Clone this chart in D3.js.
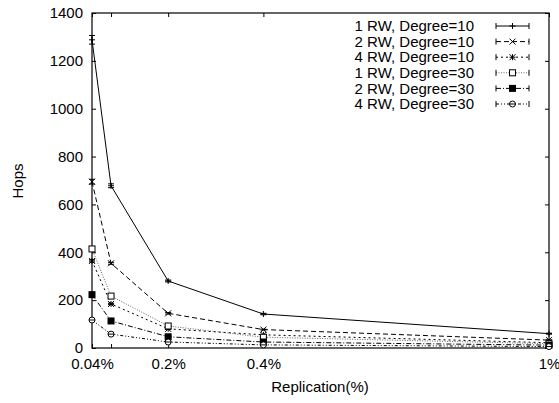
<!DOCTYPE html>
<html><head><meta charset="utf-8">
<script src="https://cdn.jsdelivr.net/npm/d3@7"></script>
<style>body{margin:0;background:#fff}svg{display:block}text{font-family:"Liberation Sans",Arial,sans-serif}</style>
</head><body><svg id="c" width="559" height="403"></svg>
<script>
const xValues = [0.04, 0.08, 0.2, 0.4, 1];
const xTickValues = [0.04, 0.08, 0.2, 0.4, 1];
const xTickLabels = ["0.04%", "", "0.2%", "0.4%", "1%"];
const yTickValues = [0, 200, 400, 600, 800, 1000, 1200, 1400];
const seriesNames = ["1 RW, Degree=10","2 RW, Degree=10","4 RW, Degree=10","1 RW, Degree=30","2 RW, Degree=30","4 RW, Degree=30"];
const rw1d10 = [1288, 678, 280, 142, 60];
const rw2d10 = [695, 354, 145, 77, 33];
const rw4d10 = [364, 184, 80, 55, 22];
const rw1d30 = [414, 217, 92, 45, 18];
const rw2d30 = [223, 113, 47, 25, 12];
const rw4d30 = [117, 58, 25, 13, 6];
const err1d10 = [18, 8, 4, 3, 2];
const err2d10 = [10, 4, 3, 2, 1];
const err4d10 = [5, 3, 2, 1, 1];
const err1d30 = [6, 4, 3, 2, 1];
const err2d30 = [4, 3, 2, 1, 1];
const err4d30 = [3, 2, 2, 1, 1];

const series = [
  {name: seriesNames[0], v: rw1d10, e: err1d10, dash: null, color: "#000", mk: "plus"},
  {name: seriesNames[1], v: rw2d10, e: err2d10, dash: "5,3", color: "#000", mk: "cross"},
  {name: seriesNames[2], v: rw4d10, e: err4d10, dash: "2,3", color: "#000", mk: "star"},
  {name: seriesNames[3], v: rw1d30, e: err1d30, dash: "1,1.5", color: "#666", mk: "square"},
  {name: seriesNames[4], v: rw2d30, e: err2d30, dash: "5,2,1,2", color: "#000", mk: "fsquare"},
  {name: seriesNames[5], v: rw4d30, e: err4d30, dash: "3,2,1,2,1,2", color: "#000", mk: "circle"}
];

const L = 92, R = 549, T = 13, B = 348;
const svg = d3.select("#c");
const x = d3.scaleLinear().domain([0.04, 1]).range([L, R]);
const y = d3.scaleLinear().domain([0, 1400]).range([B, T]);
const fs = "15px";

function styleAxis(g){ g.select(".domain").remove(); g.selectAll("line").attr("stroke","#000"); g.selectAll("text").style("font-size",fs).attr("fill","#000"); }
svg.append("g").attr("transform",`translate(0,${B})`).call(d3.axisBottom(x).tickValues(xTickValues).tickFormat((d,i)=>xTickLabels[i]).tickSize(-4).tickPadding(10)).call(styleAxis);
svg.append("g").attr("transform",`translate(0,${T})`).call(d3.axisTop(x).tickValues(xTickValues).tickFormat("").tickSize(-4)).call(styleAxis);
svg.append("g").attr("transform",`translate(${L},0)`).call(d3.axisLeft(y).tickValues(yTickValues).tickFormat(d3.format("d")).tickSize(-4).tickPadding(9)).call(styleAxis);
svg.append("g").attr("transform",`translate(${R},0)`).call(d3.axisRight(y).tickValues(yTickValues).tickFormat("").tickSize(-4)).call(styleAxis);
svg.append("rect").attr("x",L).attr("y",T).attr("width",R-L).attr("height",B-T).attr("fill","none").attr("stroke","#000").attr("stroke-width",1.2);

svg.append("text").attr("transform",`translate(23,181) rotate(-90)`).attr("text-anchor","middle").style("font-size",fs).text("Hops");
svg.append("text").attr("x",320).attr("y",392).attr("text-anchor","middle").style("font-size",fs).text("Replication(%)");

function marker(g, mk, cx, cy, color){
  const s = 3;
  if (mk==="plus"||mk==="star") { g.append("path").attr("d",`M${cx-s},${cy}H${cx+s}M${cx},${cy-s}V${cy+s}`).attr("stroke",color).attr("fill","none"); }
  if (mk==="cross"||mk==="star") { g.append("path").attr("d",`M${cx-s},${cy-s}L${cx+s},${cy+s}M${cx-s},${cy+s}L${cx+s},${cy-s}`).attr("stroke",color).attr("fill","none"); }
  if (mk==="square") g.append("rect").attr("x",cx-s).attr("y",cy-s).attr("width",2*s).attr("height",2*s).attr("fill","#fff").attr("stroke","#000");
  if (mk==="fsquare") g.append("rect").attr("x",cx-s-0.5).attr("y",cy-s-0.5).attr("width",2*s+1).attr("height",2*s+1).attr("fill","#000");
  if (mk==="circle") { g.append("circle").attr("cx",cx).attr("cy",cy).attr("r",s).attr("fill","#fff").attr("stroke","#000"); g.append("path").attr("d",`M${cx-s},${cy}H${cx+s}`).attr("stroke","#000"); }
}

const line = d3.line().x((d,i)=>x(xValues[i])).y(d=>y(d));
const plot = svg.append("g");
series.forEach(s=>{
  plot.append("path").attr("d",line(s.v)).attr("fill","none").attr("stroke",s.color).attr("stroke-width",1).attr("stroke-dasharray",s.dash);
  s.v.forEach((v,i)=>{
    const cx = x(xValues[i]);
    const y1 = y(v - s.e[i]), y2 = y(v + s.e[i]);
    plot.append("path").attr("d",`M${cx},${y1}V${y2}M${cx-3},${y1}H${cx+3}M${cx-3},${y2}H${cx+3}`).attr("stroke","#000").attr("fill","none");
    marker(plot, s.mk, cx, y(v), "#000");
  });
});

const leg = svg.append("g");
series.forEach((s,i)=>{
  const cy = 26 + i*15.6;
  leg.append("text").attr("x",474).attr("y",cy).attr("dy","0.35em").attr("text-anchor","end").style("font-size",fs).text(s.name);
  leg.append("path").attr("d",`M496,${cy}H529`).attr("stroke",s.color).attr("stroke-dasharray",s.dash).attr("fill","none");
  leg.append("path").attr("d",`M496,${cy-3}V${cy+3}M529,${cy-3}V${cy+3}`).attr("stroke","#000");
  marker(leg, s.mk, 512.5, cy, "#000");
});
</script></body></html>
